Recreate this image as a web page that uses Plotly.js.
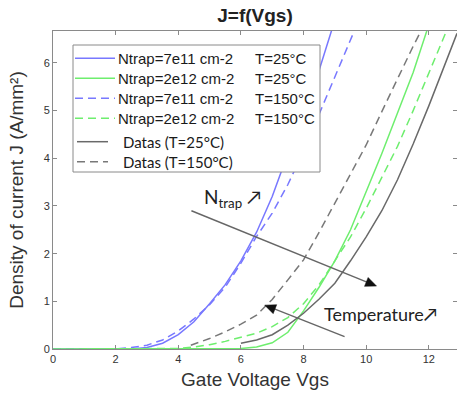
<!DOCTYPE html>
<html><head><meta charset="utf-8">
<script src="https://cdn.plot.ly/plotly-3.0.1.min.js"></script>
<style>html,body{margin:0;padding:0;background:#fff}#chart{width:457px;height:398px}</style>
</head><body><div id="chart"></div>
<script>
// Model: Ntrap=7e11 cm-2, T=25°C
const vgsBlue25 = [0, 2.5, 3.0, 3.5, 4.0, 4.5, 5.0, 5.5, 6.0, 6.5, 7.0, 7.5, 8.0, 8.5, 9.0];
const jBlue25   = [0, 0, 0.03, 0.12, 0.3, 0.57, 0.95, 1.35, 1.85, 2.45, 3.2, 4.1, 5.0, 5.85, 6.9];
// Model: Ntrap=2e12 cm-2, T=25°C
const vgsGreen25 = [0, 5.5, 6.0, 6.5, 7.0, 7.5, 8.0, 8.5, 9.0, 9.5, 10.0, 10.5, 11.0, 11.5, 12.0];
const jGreen25   = [0, 0, 0.01, 0.04, 0.13, 0.35, 0.8, 1.3, 1.85, 2.5, 3.3, 4.1, 4.95, 5.8, 6.8];
// Model: Ntrap=7e11 cm-2, T=150°C
const vgsBlue150 = [0, 2.0, 2.5, 3.0, 3.5, 4.0, 4.5, 5.0, 5.5, 6.0, 6.5, 7.0, 7.5, 8.0, 8.5, 9.0, 9.5, 9.8];
const jBlue150   = [0, 0, 0.03, 0.08, 0.19, 0.38, 0.63, 0.93, 1.3, 1.8, 2.36, 2.85, 3.45, 4.15, 4.93, 5.7, 6.5, 6.95];
// Model: Ntrap=2e12 cm-2, T=150°C
const vgsGreen150 = [0, 3.5, 4.0, 4.5, 5.0, 5.5, 6.0, 6.5, 7.0, 7.5, 8.0, 8.5, 9.0, 9.5, 10.0, 10.5, 11.0, 11.5, 12.0, 12.5, 12.9];
const jGreen150   = [0, 0, 0.01, 0.04, 0.09, 0.16, 0.24, 0.33, 0.47, 0.66, 0.95, 1.35, 1.85, 2.35, 2.95, 3.6, 4.25, 5.0, 5.8, 6.62, 7.2];
// Measurements T=25°C
const vgsData25 = [6.0, 6.5, 7.0, 7.5, 8.0, 8.5, 9.0, 9.5, 10.0, 10.5, 11.0, 11.5, 12.0, 12.5, 12.9];
const jData25   = [0.12, 0.19, 0.3, 0.5, 0.75, 1.05, 1.38, 1.85, 2.35, 2.9, 3.55, 4.3, 5.1, 5.95, 6.62];
// Measurements T=150°C
const vgsData150 = [4.4, 5.0, 5.5, 6.0, 6.5, 7.0, 7.5, 8.0, 8.5, 9.0, 9.5, 10.0, 10.5, 11.0, 11.5, 11.75];
const jData150   = [0.08, 0.22, 0.36, 0.52, 0.71, 1.04, 1.45, 1.87, 2.45, 3.05, 3.67, 4.28, 4.98, 5.68, 6.35, 6.67];

// Legend labels (two columns for model curves)
const modelLabels = ["Ntrap=7e11 cm-2", "Ntrap=2e12 cm-2", "Ntrap=7e11 cm-2", "Ntrap=2e12 cm-2"];
const tempLabels  = ["T=25°C", "T=25°C", "T=150°C", "T=150°C"];
const dataLabels  = ["Datas (T=25°C)", "Datas (T=150°C)"];
const xTicks = [0, 2, 4, 6, 8, 10, 12];
const yTicks = [0, 1, 2, 3, 4, 5, 6];

const BLUE = 'rgb(120,120,255)', GREEN = 'rgb(110,238,110)', GRAY = 'rgb(105,105,105)', GRAYD = 'rgb(120,120,120)';
const DASH = '8px,5px';
function tr(x, y, name, color, dash) {
  return {x: x, y: y, name: name, type: 'scatter', mode: 'lines', showlegend: false,
    line: {color: color, width: 1.5, dash: dash}, hoverinfo: 'skip'};
}
const styles = [[BLUE, 'solid'], [GREEN, 'solid'], [BLUE, DASH], [GREEN, DASH], [GRAY, 'solid'], [GRAYD, DASH]];
const data = [
  tr(vgsBlue25, jBlue25, modelLabels[0] + ' ' + tempLabels[0], BLUE, 'solid'),
  tr(vgsGreen25, jGreen25, modelLabels[1] + ' ' + tempLabels[1], GREEN, 'solid'),
  tr(vgsBlue150, jBlue150, modelLabels[2] + ' ' + tempLabels[2], BLUE, DASH),
  tr(vgsGreen150, jGreen150, modelLabels[3] + ' ' + tempLabels[3], GREEN, DASH),
  tr(vgsData25, jData25, dataLabels[0], GRAY, 'solid'),
  tr(vgsData150, jData150, dataLabels[1], GRAYD, DASH)
];

// geometry helpers (plot area: 404 x 318 px)
const XR = [0, 12.9], YR = [0, 6.67];
const PW = 404, PH = 318;
const pxX = v => (v - XR[0]) / (XR[1] - XR[0]) * PW;
const pxY = v => (v - YR[0]) / (YR[1] - YR[0]) * PH;
const dX = p => XR[0] + p / PW * (XR[1] - XR[0]);
const dY = p => YR[0] + p / PH * (YR[1] - YR[0]);
function arrowShapes(x0, y0, x1, y1, color) {
  const ax = pxX(x0), ay = pxY(y0), bx = pxX(x1), by = pxY(y1);
  const L = Math.hypot(bx - ax, by - ay), ux = (bx - ax) / L, uy = (by - ay) / L;
  const hl = 11, hw = 4.8;
  const cx = bx - ux * hl, cy = by - uy * hl;
  const p1 = [cx - uy * hw, cy + ux * hw], p2 = [cx + uy * hw, cy - ux * hw];
  return [
    {type: 'line', xref: 'x', yref: 'y', x0: x0, y0: y0, x1: dX(cx + ux * 2), y1: dY(cy + uy * 2),
      line: {color: color, width: 1.4}},
    {type: 'path', xref: 'x', yref: 'y', fillcolor: '#111', line: {color: '#111', width: 0.5},
      path: 'M' + x1 + ',' + y1 + ' L' + dX(p1[0]) + ',' + dY(p1[1]) + ' L' + dX(p2[0]) + ',' + dY(p2[1]) + ' Z'}
  ];
}

// custom legend
const px2paperX = p => (p - 53) / PW;
const px2paperY = p => (349 - p) / PH;
const rowY = [58.3, 78.3, 98.3, 118.3, 141.7, 161.7];
const shapes = [
  {type: 'rect', xref: 'paper', yref: 'paper', x0: px2paperX(73), x1: px2paperX(320), y0: px2paperY(172), y1: px2paperY(45),
    fillcolor: '#fff', line: {color: '#8a8a8a', width: 1}}
];
const annotations = [];
const LFONT = {family: 'Liberation Sans, Arial', size: 15, color: '#1a1a1a'};
for (let i = 0; i < 6; i++) {
  const isData = i >= 4;
  shapes.push({type: 'line', xref: 'paper', yref: 'paper',
    x0: px2paperX(isData ? 77 : 75), x1: px2paperX(isData ? 108 : 115),
    y0: px2paperY(rowY[i]), y1: px2paperY(rowY[i]),
    line: {color: styles[i][0], width: 1.5, dash: styles[i][1]}});
  if (!isData) {
    annotations.push({xref: 'paper', yref: 'paper', x: px2paperX(116), y: px2paperY(rowY[i]), xanchor: 'left', yanchor: 'middle',
      text: modelLabels[i], showarrow: false, font: LFONT});
    annotations.push({xref: 'paper', yref: 'paper', x: px2paperX(253), y: px2paperY(rowY[i]), xanchor: 'left', yanchor: 'middle',
      text: tempLabels[i], showarrow: false, font: LFONT});
  } else {
    annotations.push({xref: 'paper', yref: 'paper', x: px2paperX(121), y: px2paperY(rowY[i]), xanchor: 'left', yanchor: 'middle',
      text: dataLabels[i - 4], showarrow: false, font: {family: 'Lato', size: 15, color: '#1a1a1a'}});
  }
}
// trend arrows
shapes.push(...arrowShapes(4.42, 2.90, 10.33, 1.32, '#666'));
shapes.push(...arrowShapes(9.31, 0.26, 6.76, 0.92, '#666'));
annotations.push({x: 5.74, y: 3.17, xref: 'x', yref: 'y', showarrow: false,
  text: 'N<sub>trap</sub> ↗', font: {family: 'Lato, DejaVu Sans', size: 19, color: '#222'}});
annotations.push({x: 10.45, y: 0.74, xref: 'x', yref: 'y', showarrow: false,
  text: 'Temperature↗', font: {family: 'Lato, DejaVu Sans', size: 18, color: '#222'}});

const axisCommon = {
  showline: true, linecolor: '#8a8a8a', linewidth: 1, mirror: 'ticks',
  ticks: 'inside', ticklen: 4, tickcolor: '#8a8a8a', showgrid: false, zeroline: false,
  tickfont: {family: 'Liberation Sans, Arial', size: 11, color: '#333'}, fixedrange: true
};
const layout = {
  width: 457, height: 398,
  margin: {l: 53, r: 0, t: 31, b: 49},
  paper_bgcolor: '#fff', plot_bgcolor: '#fff',
  title: {text: '<b>J=f(Vgs)</b>', x: 0.5, xref: 'paper', y: 1 - 15/398, yref: 'container', yanchor: 'middle',
    font: {family: 'Liberation Sans, Arial', size: 19, color: '#222'}},
  xaxis: Object.assign({}, axisCommon, {range: XR, tickvals: xTicks,
    title: {text: 'Gate Voltage Vgs', font: {family: 'Liberation Sans, Arial', size: 19, color: '#333'}, standoff: 8}}),
  yaxis: Object.assign({}, axisCommon, {range: YR, tickvals: yTicks,
    title: {text: 'Density of current J (A/mm²)', font: {family: 'Liberation Sans, Arial', size: 19, color: '#333'}, standoff: 15}}),
  showlegend: false,
  shapes: shapes,
  annotations: annotations
};
Plotly.newPlot('chart', data, layout, {displayModeBar: false, staticPlot: true});
</script></body></html>
